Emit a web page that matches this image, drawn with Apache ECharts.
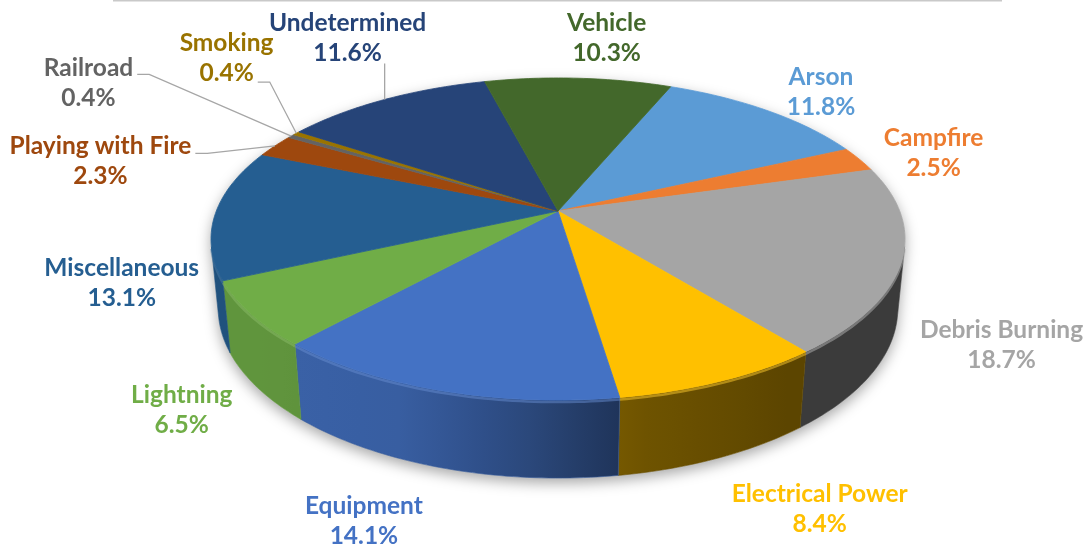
<!DOCTYPE html>
<html>
<head>
<meta charset="utf-8">
<script src="https://cdn.jsdelivr.net/npm/echarts@6/dist/echarts.min.js"></script>
<style>
  html, body { margin: 0; padding: 0; background: #fff; }
  #main { width: 1089px; height: 544px; }
</style>
</head>
<body>
<div id="main"></div>
<script>
// causes of fire, share in percent
var categories = ['Arson', 'Campfire', 'Debris Burning', 'Electrical Power', 'Equipment', 'Lightning',
                  'Miscellaneous', 'Playing with Fire', 'Railroad', 'Smoking', 'Undetermined', 'Vehicle'];
var percents = [11.8, 2.5, 18.7, 8.4, 14.1, 6.5, 13.1, 2.3, 0.4, 0.4, 11.6, 10.3];

// office palette
var colors = ['#5B9BD5', '#ED7D31', '#A5A5A5', '#FFC000', '#4472C4', '#70AD47',
              '#255E91', '#9E480E', '#636363', '#997300', '#264478', '#43682B'];

// 3d look of the pie (perspective camera)
var PIE = { cx: 558, cy: 211, f: 1746, dist: 5.11, tilt: 27.2, depth: 0.23, startAngle: 22.5 };
var LABEL_FONT = 'bold 24.5px Lato';

// hand moved labels, in pixels from the default spot
var labelShift = {
    'Arson': [1, 6], 'Campfire': [7, 5], 'Debris Burning': [12, -21], 'Electrical Power': [55, -22],
    'Equipment': [-52, -7], 'Lightning': [-13, -15], 'Miscellaneous': [-2, 69],
    'Playing with Fire': [-68, 40], 'Railroad': [-140, -35], 'Smoking': [-5, -56],
    'Undetermined': [44, -9], 'Vehicle': [21, 9]
};
// where the leader line leaves the label: which text row, and vertical offset
var leaderFrom = {
    'Playing with Fire': ['name', -8], 'Railroad': ['name', -9],
    'Smoking': ['pct', 24], 'Undetermined': ['bottom', 25]
};

var sT = Math.sin(PIE.tilt * Math.PI / 180);
var cT = Math.cos(PIE.tilt * Math.PI / 180);

function project(x, y, z) {
    var yc = y * sT + z * cT;
    var zc = y * cT - z * sT;
    var w = PIE.dist + zc;
    return [PIE.cx + PIE.f * x / w, PIE.cy - PIE.f * yc / w];
}

// theta = degrees clockwise from 12 o'clock
function rimPoint(theta, k, z) {
    var phi = (90 - theta) * Math.PI / 180;
    return project(k * Math.cos(phi), k * Math.sin(phi), z);
}

function arc(t0, t1, z) {
    var pts = [];
    var n = Math.max(2, Math.ceil(Math.abs(t1 - t0)));
    for (var j = 0; j <= n; j++) {
        pts.push(rimPoint(t0 + (t1 - t0) * j / n, 1, z));
    }
    return pts;
}

function rgb(hex) {
    return [parseInt(hex.substr(1, 2), 16), parseInt(hex.substr(3, 2), 16), parseInt(hex.substr(5, 2), 16)];
}
function shade(hex, f) {
    var c = rgb(hex);
    return 'rgb(' + Math.round(c[0] * f) + ',' + Math.round(c[1] * f) + ',' + Math.round(c[2] * f) + ')';
}
function lighten(hex, a) {
    var c = rgb(hex);
    return 'rgb(' + Math.round(c[0] + (255 - c[0]) * a) + ',' + Math.round(c[1] + (255 - c[1]) * a) + ',' + Math.round(c[2] + (255 - c[2]) * a) + ')';
}

// darkness of the side wall, by angle
var wallShade = [[90, 0.36], [120, 0.36], [145, 0.36], [170, 0.44], [185, 0.64], [202, 0.82], [230, 0.86], [270, 0.86]];
function wallFactor(t) {
    if (t <= wallShade[0][0]) return wallShade[0][1];
    for (var j = 1; j < wallShade.length; j++) {
        if (t <= wallShade[j][0]) {
            var a = wallShade[j - 1], b = wallShade[j];
            return a[1] + (b[1] - a[1]) * (t - a[0]) / (b[0] - a[0]);
        }
    }
    return wallShade[wallShade.length - 1][1];
}

// slices
var total = percents.reduce(function (a, b) { return a + b; }, 0);
var slices = [];
var acc = PIE.startAngle;
percents.forEach(function (v) {
    var span = v / total * 360;
    slices.push({ t0: acc, t1: acc + span, mid: acc + span / 2 });
    acc += span;
});

// side wall is seen where cos(theta) < -1/(dist*cos(tilt))
var vis = Math.acos(-1 / (PIE.dist * cT)) * 180 / Math.PI;
var V0 = vis, V1 = 360 - vis;

var measureCtx = document.createElement('canvas').getContext('2d');
measureCtx.font = LABEL_FONT;

function renderItem(params, api) {
    var i = params.dataIndex;
    var sl = slices[i];
    var col = colors[i];
    var children = [];

    if (i === 0) {
        // base with soft shadow
        var base = arc(V1, V0 + 360, 0).concat(arc(V0, V1, -PIE.depth));
        children.push({
            type: 'polygon', z2: 0,
            shape: { points: base },
            style: { fill: '#fff', shadowBlur: 14, shadowOffsetY: 5, shadowColor: 'rgba(0,0,0,0.35)' }
        });
    }

    // wall
    var lo = Math.max(sl.t0, V0), hi = Math.min(sl.t1, V1);
    if (lo < hi) {
        var top = arc(lo, hi, 0);
        var bottom = arc(hi, lo, -PIE.depth);
        var pts = top.concat(bottom);
        var minX = Infinity, maxX = -Infinity;
        pts.forEach(function (p) { minX = Math.min(minX, p[0]); maxX = Math.max(maxX, p[0]); });
        var stops = [];
        var n = 8;
        for (var j = 0; j <= n; j++) {
            var t = lo + (hi - lo) * j / n;
            var x = rimPoint(t, 1, 0)[0];
            stops.push({ offset: Math.min(1, Math.max(0, (x - minX) / (maxX - minX))), color: shade(col, wallFactor(t)) });
        }
        stops.sort(function (a, b) { return a.offset - b.offset; });
        children.push({
            type: 'polygon', z2: 5,
            shape: { points: pts },
            style: { fill: new echarts.graphic.LinearGradient(0, 0, 1, 0, stops), stroke: shade(col, wallFactor((lo + hi) / 2)), lineWidth: 0.6 }
        });
        children.push({
            type: 'polyline', z2: 6,
            shape: { points: top.map(function (p) { return [p[0], p[1] + 2]; }) },
            style: { stroke: lighten(col, 0.18), lineWidth: 2.5, opacity: 0.5, fill: null }
        });
    }

    // top face
    var face = [[PIE.cx, PIE.cy]].concat(arc(sl.t0, sl.t1, 0));
    children.push({
        type: 'polygon', z2: 10,
        shape: { points: face },
        style: { fill: col, stroke: col, lineWidth: 0.8, lineJoin: 'round' }
    });

    // label
    var name = categories[i];
    var pct = percents[i].toFixed(1) + '%';
    var wName = measureCtx.measureText(name).width;
    var wPct = measureCtx.measureText(pct).width;
    var w = Math.max(wName, wPct);
    var ct = Math.cos(sl.mid * Math.PI / 180);
    var anchor = rimPoint(sl.mid, 1, ct < Math.cos(V0 * Math.PI / 180) ? -PIE.depth : 0);
    var dx = anchor[0] - PIE.cx, dy = anchor[1] - PIE.cy;
    var len = Math.sqrt(dx * dx + dy * dy);
    var ux = dx / len, uy = dy / len;
    var ext = Math.abs(ux) * w / 2 + Math.abs(uy) * 30 + 14;
    var shift = labelShift[name] || [0, 0];
    var lx = anchor[0] + ux * ext + shift[0];
    var ly = anchor[1] + uy * ext + shift[1];
    children.push({
        type: 'text', z2: 100,
        x: lx, y: ly,
        style: {
            text: name + '\n' + pct, fill: col, font: LABEL_FONT,
            align: 'center', verticalAlign: 'middle', lineHeight: 30
        }
    });

    var lf = leaderFrom[name];
    if (lf) {
        var rim = rimPoint(sl.mid, 1, 0);
        var line;
        if (lf[0] === 'bottom') {
            line = [[rim[0], ly + lf[1]], rim];
        } else {
            var half = (lf[0] === 'pct' ? wPct : wName) / 2 + 4;
            var sx = rim[0] > lx ? lx + half : lx - half;
            var dir = rim[0] > lx ? 1 : -1;
            line = [[sx, ly + lf[1]], [sx + dir * 12, ly + lf[1]], rim];
        }
        children.push({
            type: 'polyline', z2: 90,
            shape: { points: line },
            style: { stroke: '#a6a6a6', lineWidth: 1.3, fill: null }
        });
    }

    return { type: 'group', children: children };
}

var chart = echarts.init(document.getElementById('main'));
chart.setOption({
    animation: false,
    graphic: [{
        type: 'line',
        shape: { x1: 113, y1: 0.5, x2: 1002, y2: 0.5 },
        style: { stroke: '#c9c9c9', lineWidth: 2 }
    }],
    series: [{
        type: 'custom',
        coordinateSystem: 'none',
        renderItem: renderItem,
        data: percents.map(function (v, i) { return [i, v]; })
    }]
});
</script>
</body>
</html>
